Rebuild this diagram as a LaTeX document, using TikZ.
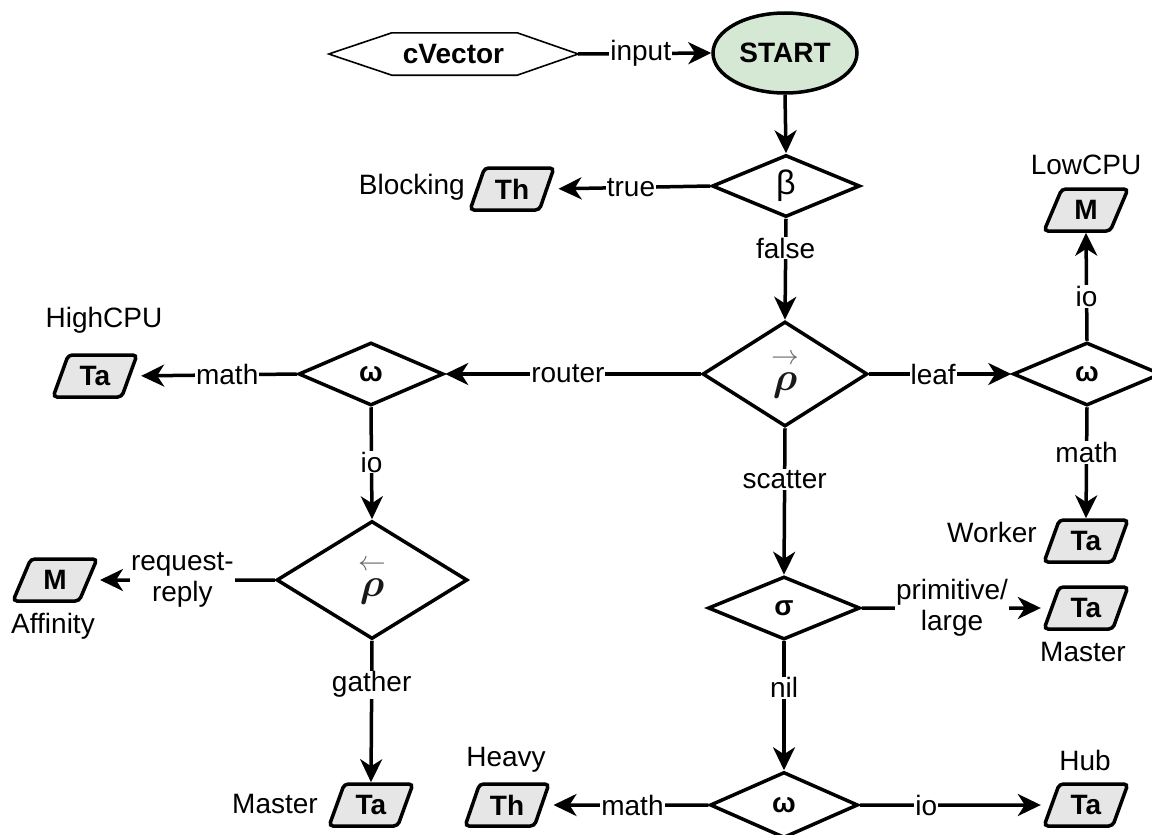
\documentclass[tikz,border=0pt]{standalone}
\usepackage{fontspec}
\setmainfont{Liberation Sans}
\usepackage{amsmath,bm}
\usetikzlibrary{shapes.geometric,arrows.meta,calc}
\definecolor{startgreen}{HTML}{D5E8D4}
\definecolor{paragray}{HTML}{E6E6E6}
\newcommand{\lblfont}{\fontsize{28}{31}\selectfont}
\newcommand{\rhoR}{\scalebox{1.6}{\fontsize{25}{25}\selectfont$\overset{{\color{black!60}\scriptstyle\rightarrow}}{{\color{black!90}\bm{\rho}}}$}}
\newcommand{\rhoL}{\scalebox{1.6}{\fontsize{25}{25}\selectfont$\overset{{\color{black!60}\scriptstyle\leftarrow}}{{\color{black!90}\bm{\rho}}}$}}
\tikzset{
  dia/.style={diamond, draw, line width=3.5pt, inner sep=0pt, aspect=1, font=\lblfont},
  para/.style={trapezium, trapezium left angle=66, trapezium right angle=114,
    trapezium stretches=true, draw, line width=3.5pt, fill=paragray, rounded corners=4pt,
    minimum width=84pt, minimum height=42pt, inner sep=0pt, font=\lblfont\bfseries},
  lbl/.style={fill=white, inner sep=1pt, font=\lblfont, align=center},
  txt/.style={inner sep=0pt, font=\lblfont},
  conn/.style={line width=3.5pt, -{Stealth[length=23pt,width=22pt,inset=7pt]}},
  topara/.style={shorten >=10pt},
}
\begin{document}
\begin{tikzpicture}[x=1pt,y=-1pt]
\useasboundingbox (0,0) rectangle (1152,835);
\clip (0,0) rectangle (1152,835);

% input hexagon and start
\node[txt, font=\lblfont\bfseries, minimum width=249pt, minimum height=42pt] (cvec) at (453.5,54) {cVector};
\draw[line width=1.6pt] (cvec.west) -- ([xshift=63pt]cvec.north west) -- ([xshift=-61pt]cvec.north east)
  -- (cvec.east) -- ([xshift=-61pt]cvec.south east) -- ([xshift=63pt]cvec.south west) -- cycle;
\node[ellipse, draw, line width=3.5pt, fill=startgreen, minimum width=144pt, minimum height=80pt,
  inner sep=0pt, font=\lblfont\bfseries] (start) at (785,53) {START};

% decision nodes
\node[dia, minimum width=148pt, minimum height=62pt, font=\fontsize{34}{34}\selectfont] (beta) at (786,186) {β};
\node[dia, minimum width=165pt, minimum height=105pt] (rhor) at (785,374) {\rhoR};
\node[dia, minimum width=148pt, minimum height=63pt, font=\lblfont\bfseries] (omr) at (1087,374) {ω};
\node[dia, minimum width=145pt, minimum height=63pt, font=\lblfont\bfseries] (oml) at (371,374) {ω};
\node[dia, minimum width=191pt, minimum height=118pt] (rhol) at (372,580) {\rhoL};
\node[dia, minimum width=152pt, minimum height=63pt, font=\lblfont\bfseries] (sigma) at (784,608) {σ};
\node[dia, minimum width=148pt, minimum height=66pt, font=\lblfont\bfseries] (omb) at (784,805) {ω};

% result nodes
\node[para] (thb) at (512,189) {Th};
\node[txt, anchor=east] (tblocking) at (465,187) {Blocking};
\node[para] (mlow) at (1086,210) {M};
\node[txt] (tlowcpu) at (1086,165) {LowCPU};
\node[para] (tahigh) at (95,376) {Ta};
\node[txt] (thighcpu) at (104,320) {HighCPU};
\node[para] (maff) at (55,580) {M};
\node[txt] (taffinity) at (53,626) {Affinity};
\node[para] (tamaster) at (371,805) {Ta};
\node[txt, anchor=east] (tmasterl) at (318,804) {Master};
\node[para] (thheavy) at (507,805) {Th};
\node[txt] (theavy) at (506,760) {Heavy};
\node[para] (taworker) at (1086,541) {Ta};
\node[txt, anchor=east] (tworker) at (1037,532) {Worker};
\node[para] (tamasterr) at (1086,608) {Ta};
\node[txt] (tmasterr) at (1083,652) {Master};
\node[para] (tahub) at (1086,805) {Ta};
\node[txt] (thub) at (1085,760) {Hub};

% connectors
\draw[conn] (cvec.east) -- node[lbl, pos=0.47] {input} (start.west);
\draw[conn] (start.south) -- (beta.north);
\draw[conn, topara] (beta.west) -- node[lbl, pos=0.49] {true} (thb.east);
\draw[conn] (beta.south) -- node[lbl, pos=0.29] {false} (rhor.north);
\draw[conn] (rhor.west) -- node[lbl, pos=0.52] {router} (oml.east);
\draw[conn] (rhor.east) -- node[lbl, pos=0.45] {leaf} (omr.west);
\draw[conn] (rhor.south) -- node[lbl, pos=0.35] {scatter} (sigma.north);
\draw[conn, topara] (oml.west) -- node[lbl, pos=0.42] {math} (tahigh.east);
\draw[conn] (oml.south) -- node[lbl, pos=0.49] {io} (rhol.north);
\draw[conn, topara] (rhol.west) -- node[lbl, pos=0.5] {request-\\reply} (maff.east);
\draw[conn] (rhol.south) -- node[lbl, pos=0.31] {gather} (tamaster.north);
\draw[conn] (omr.north) -- node[lbl, pos=0.41] {io} (mlow.south);
\draw[conn] (omr.south) -- node[lbl, pos=0.41] {math} (taworker.north);
\draw[conn, shorten >=9pt] (sigma.east) -- node[lbl, pos=0.48] {primitive/\\large} (tamasterr.west);
\draw[conn] (sigma.south) -- node[lbl, pos=0.36] {nil} (omb.north);
\draw[conn, topara] (omb.west) -- node[lbl, pos=0.46] {math} (thheavy.east);
\draw[conn, shorten >=9pt] (omb.east) -- node[lbl, pos=0.35] {io} (tahub.west);
\end{tikzpicture}
\end{document}
